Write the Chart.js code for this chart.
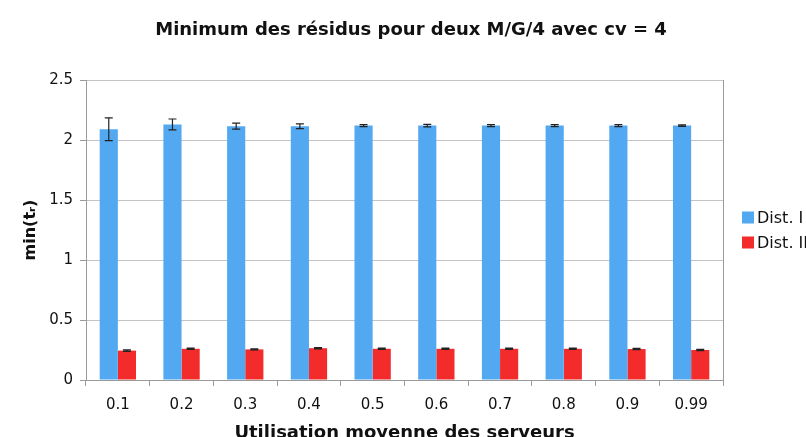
<!DOCTYPE html>
<html>
<head>
<meta charset="utf-8">
<script src="https://cdn.jsdelivr.net/npm/chart.js@4"></script>
<style>
  body { margin: 0; background: #fff; }
  #wrap { width: 806px; height: 437px; overflow: hidden; position: relative; }
</style>
</head>
<body>
<div id="wrap"><canvas id="residusChart" width="822" height="450"></canvas></div>
<script>
// Utilisation moyenne des serveurs
const categories = ['0.1', '0.2', '0.3', '0.4', '0.5', '0.6', '0.7', '0.8', '0.9', '0.99'];

// min(t_r) per distribution
const distI = [2.09, 2.13, 2.115, 2.115, 2.12, 2.12, 2.12, 2.12, 2.12, 2.12];
const distIErr = [0.095, 0.045, 0.025, 0.02, 0.008, 0.01, 0.008, 0.008, 0.008, 0.006];
const distII = [0.245, 0.26, 0.255, 0.265, 0.26, 0.26, 0.26, 0.26, 0.258, 0.25];
const distIIErr = [0.006, 0.005, 0.005, 0.005, 0.005, 0.005, 0.005, 0.005, 0.005, 0.005];

const yTicks = [0, 0.5, 1, 1.5, 2, 2.5];

const FONT = 'DejaVu Sans, Verdana, sans-serif';

// error bars, drawn from the err arrays through the y scale
const errorBars = {
    id: 'errorBars',
    afterDatasetsDraw(chart) {
        const ctx = chart.ctx;
        const yScale = chart.scales.y;
        chart.data.datasets.forEach((ds, i) => {
            const meta = chart.getDatasetMeta(i);
            meta.data.forEach((bar, j) => {
                const v = ds.data[j], e = ds.errors[j];
                const top = yScale.getPixelForValue(v + e);
                const bot = yScale.getPixelForValue(v - e);
                ctx.save();
                ctx.strokeStyle = '#222';
                ctx.lineWidth = 1.2;
                ctx.beginPath();
                ctx.moveTo(bar.x, top); ctx.lineTo(bar.x, bot);
                ctx.moveTo(bar.x - 4, top); ctx.lineTo(bar.x + 4, top);
                ctx.moveTo(bar.x - 4, bot); ctx.lineTo(bar.x + 4, bot);
                ctx.stroke();
                ctx.restore();
            });
        });
    }
};

// right border of the plot + legend at the right (cut by the window edge)
const frameAndLegend = {
    id: 'frameAndLegend',
    afterDraw(chart) {
        const ctx = chart.ctx;
        const a = chart.chartArea;
        ctx.save();
        ctx.strokeStyle = '#9a9a9a';
        ctx.lineWidth = 1;
        ctx.beginPath();
        ctx.moveTo(a.right + 0.5, a.top);
        ctx.lineTo(a.right + 0.5, a.bottom);
        ctx.stroke();

        ctx.font = '16px ' + FONT;
        ctx.textBaseline = 'middle';
        chart.data.datasets.forEach((ds, i) => {
            const y = 217.5 + i * 25;
            ctx.fillStyle = ds.backgroundColor;
            ctx.fillRect(742, y - 6, 12, 12);
            ctx.fillStyle = '#111';
            ctx.fillText(ds.label, 757, y + 1);
        });
        ctx.restore();
    }
};

new Chart(document.getElementById('residusChart'), {
    type: 'bar',
    data: {
        labels: categories,
        datasets: [
            { label: 'Dist. I', data: distI, errors: distIErr, backgroundColor: '#52a9f2' },
            { label: 'Dist. II', data: distII, errors: distIIErr, backgroundColor: '#f42b2b' }
        ]
    },
    options: {
        responsive: false,
        animation: false,
        datasets: { bar: { categoryPercentage: 0.57, barPercentage: 1.0 } },
        plugins: {
            legend: { display: false },
            tooltip: { enabled: false },
            title: {
                display: true,
                text: 'Minimum des résidus pour deux M/G/4 avec cv = 4',
                color: '#111',
                font: { family: FONT, size: 18, weight: 'bold' },
                padding: { top: 19.7, bottom: 38.7 }
            }
        },
        scales: {
            x: {
                afterFit(scale) { scale.height = 70; },
                grid: { display: true, offset: true, drawOnChartArea: false, drawTicks: true, tickLength: 6, color: '#9a9a9a' },
                border: { color: '#9a9a9a' },
                ticks: { color: '#111', padding: 10, font: { family: FONT, size: 15 } },
                title: {
                    display: true,
                    text: 'Utilisation moyenne des serveurs',
                    color: '#111',
                    font: { family: FONT, size: 18, weight: 'bold', lineHeight: 1 },
                    padding: { top: 0, bottom: 8 }
                }
            },
            y: {
                min: 0,
                max: 2.5,
                afterFit(scale) { scale.width = 86; },
                afterBuildTicks(axis) { axis.ticks = yTicks.map(v => ({ value: v })); },
                grid: { color: '#c4c4c4', tickLength: 6, tickColor: '#9a9a9a' },
                border: { color: '#9a9a9a' },
                ticks: { color: '#111', padding: 7, font: { family: FONT, size: 15 }, callback: v => String(v) },
                title: {
                    display: true,
                    text: 'min(tᵣ)',
                    color: '#111',
                    font: { family: FONT, size: 16, weight: 'bold' },
                    padding: { top: 21.4, bottom: 3 }
                }
            },
            // empty right-hand axis: reserves the room where the legend sits
            yRight: {
                position: 'right',
                afterFit(scale) { scale.width = 99; },
                grid: { display: false },
                border: { display: false },
                ticks: { display: false }
            }
        }
    },
    plugins: [errorBars, frameAndLegend]
});
</script>
</body>
</html>
